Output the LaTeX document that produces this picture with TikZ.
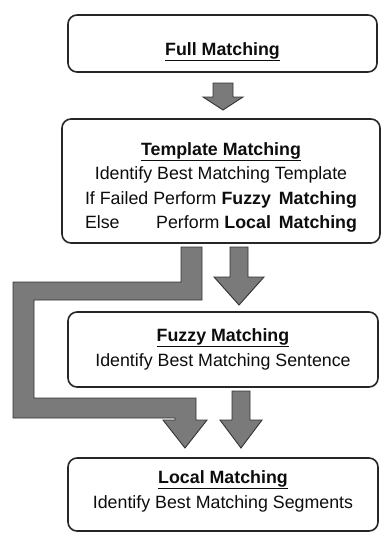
\documentclass[tikz,border=0pt]{standalone}
\usepackage{fontspec}
\setmainfont{Liberation Sans}
\usetikzlibrary{calc}

\newsavebox\failbox

\begin{document}
\begin{tikzpicture}[x=1pt,y=-1pt,
  stage/.style={draw=black!85, line width=1.6pt, rounded corners=9pt, fill=white,
    inner sep=0pt, align=center, text=black!95,
    font=\fontsize{17.8}{24.5}\selectfont},
  blockarrow/.style={fill=black!52, draw=black!80, line width=0.9pt, line join=miter}]
\useasboundingbox (0,0) rectangle (381,533);

% processing stages (text height/depth are measured from the last line)
\node[stage, minimum width=309pt, minimum height=57pt, text height=25pt, text depth=2pt]
  (full) at (222.5,43.5) {\underline{\textbf{Full Matching}}};

\node[stage, minimum width=318pt, minimum height=124pt, text height=98pt, text depth=3pt]
  (tmpl) at (221,181) {%
  \global\setbox\failbox=\hbox{If Failed Perform \textbf{Fuzzy}\ \,\textbf{Matching}}%
  \underline{\textbf{Template Matching}}\\
  Identify Best Matching Template\\
  \copy\failbox\\
  \makebox[\wd\failbox]{Else\hfill Perform \textbf{Local}\ \,\textbf{Matching}}};

\node[stage, minimum width=310pt, minimum height=75pt, text height=34pt, text depth=1pt]
  (fuzzy) at (223,349.5) {\underline{\textbf{Fuzzy Matching}}\\
  Identify Best Matching Sentence};

\node[stage, minimum width=310pt, minimum height=73pt, text height=31pt, text depth=4pt]
  (local) at (223,494.5) {\underline{\textbf{Local Matching}}\\
  Identify Best Matching Segments};

% block arrows between the stages
\draw[blockarrow] (213,83) -- (233,83) -- (233,97) -- (243,97) -- (223,110)
  -- (203,97) -- (213,97) -- cycle;

\draw[blockarrow] (230,247) -- (248,247) -- (248,277) -- (264,277) -- (239,305)
  -- (214,277) -- (230,277) -- cycle;

\draw[blockarrow] (232,391) -- (250,391) -- (250,420) -- (262,420) -- (241,448)
  -- (220,420) -- (232,420) -- cycle;

% bypass from template matching straight to local matching
\draw[blockarrow] (181,247) -- (202,247) -- (202,300) -- (34,300) -- (34,398)
  -- (196,398) -- (196,420) -- (207,420) -- (185,448) -- (163,420) -- (175,420)
  -- (175,418) -- (13,418) -- (13,282) -- (181,282) -- cycle;
\end{tikzpicture}
\end{document}
